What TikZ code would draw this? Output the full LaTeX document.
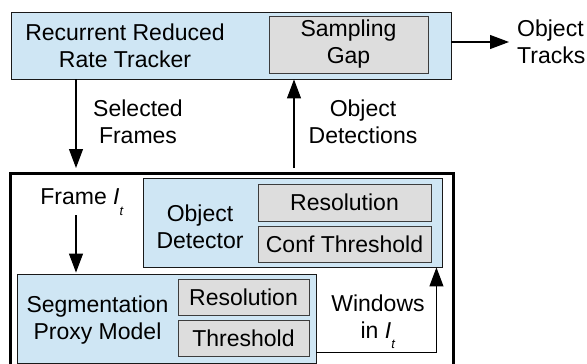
\documentclass[tikz,border=0pt]{standalone}
\usepackage{fontspec}
\setmainfont{Liberation Sans}
\usetikzlibrary{arrows.meta, positioning}
\definecolor{boxblue}{RGB}{207,230,244}
\definecolor{boxgray}{RGB}{221,221,221}
\definecolor{edgegray}{RGB}{60,60,60}
\tikzset{
  bluebox/.style={draw=black!90, fill=boxblue, line width=0.9pt},
  graybox/.style={draw=edgegray, fill=boxgray, line width=0.9pt},
  lbl/.style={inner sep=0pt},
  flow/.style={->, line width=1.1pt}
}
\newcommand{\Iframe}{\textit{I}\raisebox{-0.45em}{\fontsize{13}{13}\selectfont\textit{t}}}

\begin{document}
\begin{tikzpicture}[x=1pt, y=-1pt, >={Triangle[length=19pt, width=14pt]},
  every node/.style={align=center, font=\fontsize{23}{27}\selectfont}]
  \useasboundingbox (0,0) rectangle (587,364);
  \node[bluebox, minimum width=440, minimum height=67] (tracker) at (231,45.5) {};
  \node[graybox, minimum width=159, minimum height=57] (gap) at (348.5,44.5) {Sampling\\Gap};
  \node[lbl] (trackname) at (125,46) {Recurrent Reduced\\Rate Tracker};
  \node[lbl, anchor=west, align=left] (tracks) at (517,42) {Object\\Tracks};
  \node[draw, line width=3pt, minimum width=443, minimum height=197] (pipe) at (231.5,271.5) {};
  \node[bluebox, minimum width=299, minimum height=89] (det) at (292.5,222.5) {};
  \node[graybox, minimum width=173, minimum height=37] (detres) at (344.5,202.5) {Resolution};
  \node[graybox, minimum width=173, minimum height=36] (detconf) at (344.5,244) {Conf Threshold};
  \node[lbl] (detname) at (200,226.5) {Object\\Detector};
  \node[bluebox, minimum width=299, minimum height=89] (seg) at (166.5,318.5) {};
  \node[graybox, minimum width=131, minimum height=36] (segres) at (243.5,297) {Resolution};
  \node[graybox, minimum width=131, minimum height=36] (segthr) at (243.5,338) {Threshold};
  \node[lbl] (segname) at (97.5,320.5) {Segmentation\\Proxy Model};
  \node[lbl] (frame) at (82,202) {Frame \Iframe};
  \node[lbl] (sel) at (138,121.5) {Selected\\Frames};
  \node[lbl] (dets) at (363,121.5) {Object\\Detections};
  \node[lbl] (win) at (378,322) {Windows\\in \Iframe};
  \coordinate (downx) at (76,0);
  \coordinate (upx) at (294,0);
  \coordinate (trkout) at (tracks.west -| tracker.east);
  \draw[flow, shorten >=3.5pt] (tracker.south -| downx) -- (pipe.north -| downx);
  \draw[flow, shorten <=3.5pt] (pipe.north -| upx) -- (tracker.south -| upx);
  \draw[flow, shorten >=8pt] (trkout) -- (tracks.west);
  \draw[flow, shorten >=1pt] (frame.south -| downx) -- (seg.north -| downx);
  \draw[flow] ([yshift=11pt]seg.south east) -| ([xshift=-6pt]det.south east);
\end{tikzpicture}
\end{document}
